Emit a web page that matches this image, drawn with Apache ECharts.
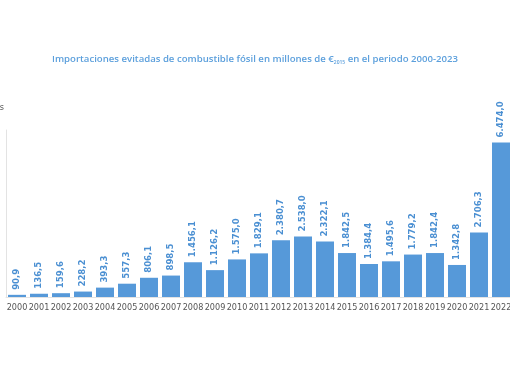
<!DOCTYPE html>
<html><head><meta charset="utf-8">
<script src="https://cdn.jsdelivr.net/npm/echarts@6/dist/echarts.min.js"></script>
<style>html,body{margin:0;padding:0;background:#fff}#c{width:510px;height:382px}</style>
</head><body><div id="c"></div>
<script>
const years = ['2000','2001','2002','2003','2004','2005','2006','2007','2008','2009','2010','2011','2012','2013','2014','2015','2016','2017','2018','2019','2020','2021','2022'];
const values = [90.9,136.5,159.6,228.2,393.3,557.3,806.1,898.5,1456.1,1126.2,1575.0,1829.1,2380.7,2538.0,2322.1,1842.5,1384.4,1495.6,1779.2,1842.4,1342.8,2706.3,6474.0];
const yAxisName = 'Millones de euros';

function fmt(v){
  const s = v.toFixed(1).split('.');
  const i = s[0].replace(/\B(?=(\d{3})+(?!\d))/g,'.');
  return i + ',' + s[1];
}
const chart = echarts.init(document.getElementById('c'));
chart.setOption({
  animation:false,
  title:{
    text:'Importaciones evitadas de combustible fósil en millones de €{sub|2015} en el periodo 2000-2023',
    left:'center', top:48,
    textStyle:{fontFamily:'Open Sans', fontSize:9.6, fontWeight:600, color:'#5b9fdc',
      rich:{sub:{fontSize:5, color:'#5b9fdc', fontFamily:'Open Sans', padding:[7,0,0,0]}}}
  },
  grid:{left:6, right:-2, top:130, bottom:85, containLabel:false, outerBoundsMode:'none'},
  xAxis:{
    type:'category', data:years,
    axisLine:{show:true, lineStyle:{color:'#e3e3e3'}},
    axisTick:{show:false},
    axisLabel:{color:'#555', fontSize:9, fontFamily:'DejaVu Sans Condensed', margin:6, interval:0}
  },
  yAxis:{
    type:'value', min:0, max:7000, interval:1000,
    name:yAxisName, nameLocation:'end', nameGap:18,
    nameTextStyle:{align:'right', color:'#555', fontSize:9, fontFamily:'DejaVu Sans Condensed', padding:[0,2,0,0]},
    axisLine:{show:true, lineStyle:{color:'#e3e3e3'}},
    axisTick:{show:false}, axisLabel:{show:false}, splitLine:{show:false}
  },
  series:[{
    type:'bar', data:values, barWidth:18,
    itemStyle:{color:'#5699d9'},
    label:{show:true, position:'top', rotate:90, align:'left', verticalAlign:'middle', distance:5,
      color:'#4a8fd2', fontSize:9.5, fontWeight:'bold', fontFamily:'DejaVu Sans Condensed',
      formatter:p=>fmt(p.value)}
  }]
});
</script></body></html>
